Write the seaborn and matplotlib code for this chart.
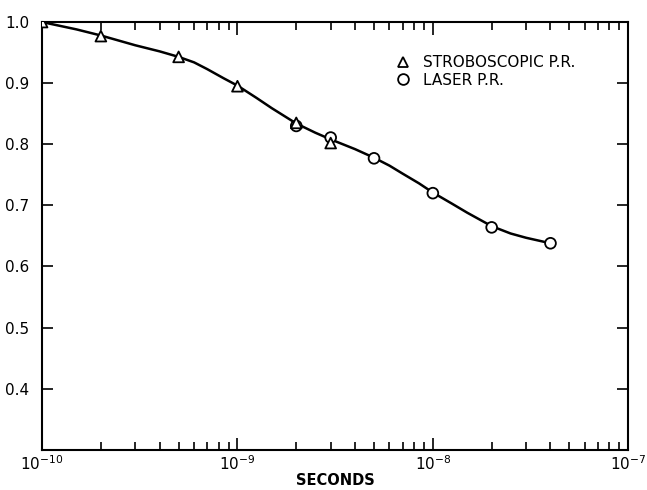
import matplotlib
matplotlib.use("Agg")
import matplotlib.pyplot as plt
import matplotlib.ticker as mticker
import seaborn as sns
import pandas as pd

# Data
strobe_t = [1e-10, 2e-10, 5e-10, 1e-9, 2e-9, 3e-9]
strobe_v = [1.0, 0.977, 0.943, 0.895, 0.835, 0.802]
laser_t = [2e-9, 3e-9, 5e-9, 1e-8, 2e-8, 4e-8]
laser_v = [0.830, 0.811, 0.777, 0.720, 0.664, 0.638]
# smooth hand-drawn curve
curve_t = [1e-10, 1.5e-10, 2e-10, 3e-10, 4e-10, 5e-10, 6e-10, 7e-10, 8.5e-10, 1e-9, 1.25e-9, 1.5e-9, 2e-9, 2.5e-9,
           3e-9, 4e-9, 5e-9, 6e-9, 7e-9, 8.5e-9, 1e-8, 1.25e-8, 1.5e-8, 2e-8, 2.5e-8, 3e-8, 4e-8]
curve_v = [1.0, 0.988, 0.978, 0.962, 0.952, 0.943, 0.934, 0.923, 0.908, 0.896, 0.876, 0.859, 0.834, 0.819,
           0.808, 0.792, 0.778, 0.765, 0.752, 0.736, 0.721, 0.703, 0.688, 0.666, 0.654, 0.647, 0.638]
y_ticks = [0.4, 0.5, 0.6, 0.7, 0.8, 0.9, 1.0]
x_ticks = [1e-10, 1e-9, 1e-8, 1e-7]
labels = ["STROBOSCOPIC P.R.", "LASER P.R."]

sns.set_style("ticks")
plt.rcParams['font.family'] = ['DejaVu Sans']
plt.rcParams['text.color'] = 'black'

pts = pd.DataFrame({
    "t": strobe_t + laser_t,
    "v": strobe_v + laser_v,
    "method": [labels[0]] * len(strobe_t) + [labels[1]] * len(laser_t),
})
curve = pd.DataFrame({"t": curve_t, "v": curve_v})

fig = plt.figure(figsize=(6.47, 4.9), dpi=100)
ax = fig.add_axes([0.065, 0.082, 0.906, 0.873])

sns.lineplot(data=curve, x="t", y="v", ax=ax, color="black", linewidth=1.8, zorder=2)
sns.scatterplot(data=pts.iloc[::-1], x="t", y="v", style="method", ax=ax,
                markers={labels[0]: "^", labels[1]: "o"},
                style_order=labels,
                facecolor="white", edgecolor="black", linewidth=1.3,
                s=60, zorder=3, legend=True)

ax.set_xscale("log")
ax.set_xlim(1e-10, 1e-7)
ax.set_ylim(0.3, 1.0)
ax.set_xticks(x_ticks)
ax.xaxis.set_major_formatter(mticker.LogFormatterMathtext())
ax.xaxis.set_minor_locator(mticker.LogLocator(base=10, subs=range(2, 10), numticks=20))
ax.xaxis.set_minor_formatter(mticker.NullFormatter())
ax.set_yticks(y_ticks)
ax.set_yticklabels([f"{v:.1f}" for v in y_ticks])

for s in ax.spines.values():
    s.set_visible(True)
    s.set_linewidth(1.5)
    s.set_color("black")

ax.tick_params(axis="both", which="both", direction="in", top=True, right=True,
               color="black", width=1.2, labelsize=11, labelcolor="black")
ax.tick_params(axis="y", which="major", length=8, pad=9)
ax.tick_params(axis="x", which="major", length=9, pad=3)
ax.tick_params(axis="x", which="minor", length=6)

ax.set_xlabel("SECONDS", fontsize=10.5, fontweight="bold", labelpad=0, color="black")
ax.set_ylabel("")

leg = ax.legend(loc="upper left", bbox_to_anchor=(0.59, 0.94), frameon=False,
                fontsize=11, handletextpad=0.8, labelspacing=0.15, borderpad=0,
                handlelength=1.0, labelcolor="black")
for h in leg.legend_handles:
    if hasattr(h, "set_markerfacecolor"):
        h.set_markerfacecolor("white")
        h.set_markeredgecolor("black")
    else:
        h.set_facecolor("white")
        h.set_edgecolor("black")

fig.savefig("out.png", dpi=100)
